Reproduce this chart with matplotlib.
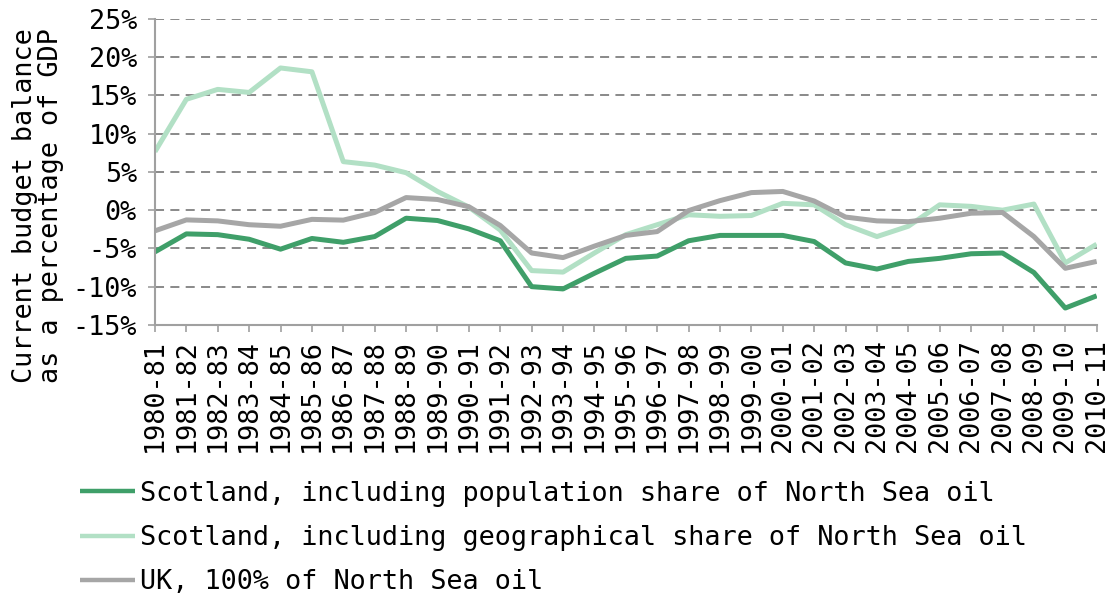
import matplotlib
matplotlib.use("Agg")
import matplotlib.pyplot as plt

years = ['1980-81', '1981-82', '1982-83', '1983-84', '1984-85', '1985-86', '1986-87',
         '1987-88', '1988-89', '1989-90', '1990-91', '1991-92', '1992-93', '1993-94',
         '1994-95', '1995-96', '1996-97', '1997-98', '1998-99', '1999-00', '2000-01',
         '2001-02', '2002-03', '2003-04', '2004-05', '2005-06', '2006-07', '2007-08',
         '2008-09', '2009-10', '2010-11']

# Scotland, population share of North Sea oil
scot_pop = [-5.45, -3.1, -3.2, -3.8, -5.1, -3.7, -4.2, -3.45, -1.05, -1.35, -2.45,
            -4.0, -10.0, -10.3, -8.25, -6.3, -6.0, -4.0, -3.3, -3.3, -3.3,
            -4.1, -6.9, -7.7, -6.7, -6.3, -5.7, -5.6, -8.15, -12.8, -11.2]

# Scotland, geographical share of North Sea oil
scot_geo = [7.65, 14.5, 15.8, 15.4, 18.6, 18.1, 6.35, 5.9, 4.9, 2.45, 0.4,
            -2.6, -7.9, -8.1, -5.6, -3.2, -1.9, -0.6, -0.8, -0.7, 0.9,
            0.7, -1.9, -3.45, -2.1, 0.7, 0.5, 0.0, 0.8, -6.9, -4.45]

# UK, 100% of North Sea oil
uk = [-2.7, -1.27, -1.4, -1.9, -2.1, -1.2, -1.3, -0.3, 1.65, 1.4, 0.45,
      -2.0, -5.6, -6.2, -4.7, -3.3, -2.8, -0.05, 1.25, 2.3, 2.45,
      1.2, -0.9, -1.4, -1.5, -1.05, -0.4, -0.3, -3.45, -7.6, -6.7]

labels = ['Scotland, including population share of North Sea oil',
          'Scotland, including geographical share of North Sea oil',
          'UK, 100% of North Sea oil']

plt.rcParams['font.family'] = ['DejaVu Sans Mono']
fs = 19.4

fig = plt.figure(figsize=(11.1, 5.95), dpi=100)
ax = fig.add_axes([0.1396, 0.454, 0.8484, 0.514])

x = list(range(len(years)))
ax.plot(x, scot_pop, color='#3F9F69', lw=3.6, label=labels[0], solid_capstyle='butt')
ax.plot(x, scot_geo, color='#B2E0C5', lw=3.6, label=labels[1], solid_capstyle='butt')
ax.plot(x, uk, color='#A6A6A6', lw=3.6, label=labels[2], solid_capstyle='butt')

ax.set_xlim(0, 30)
ax.set_ylim(-15, 25)
yt = list(range(-15, 30, 5))
ax.set_yticks(yt)
ax.set_yticklabels(['%d%%' % v for v in yt], fontsize=fs)
ax.set_xticks(x)
ax.set_xticklabels(years, rotation=90, fontsize=fs)

for v in yt[1:]:
    ax.axhline(v, color='#808080', lw=1.3, ls=(0, (5, 3.5)), zorder=0)

for s in ['top', 'right']:
    ax.spines[s].set_visible(False)
for s in ['left', 'bottom']:
    ax.spines[s].set_color('#A0A0A0')
    ax.spines[s].set_linewidth(1.5)
ax.tick_params(axis='both', direction='out', length=5, width=1.2, color='#A0A0A0')
ax.tick_params(axis='y', pad=8)
ax.tick_params(axis='x', pad=5)

fig.text(0.034, 0.655, 'Current budget balance\nas a percentage of GDP', rotation=90,
         ha='center', va='center', fontsize=fs, linespacing=1.0)

leg = fig.legend(loc='upper left', bbox_to_anchor=(0.072, 0.192), frameon=False,
                 fontsize=fs, handlelength=2.05, handletextpad=0.19, labelspacing=0.68,
                 borderpad=0, borderaxespad=0)
for h in leg.get_lines():
    h.set_linewidth(3.2)

fig.savefig('out.png', dpi=100)
